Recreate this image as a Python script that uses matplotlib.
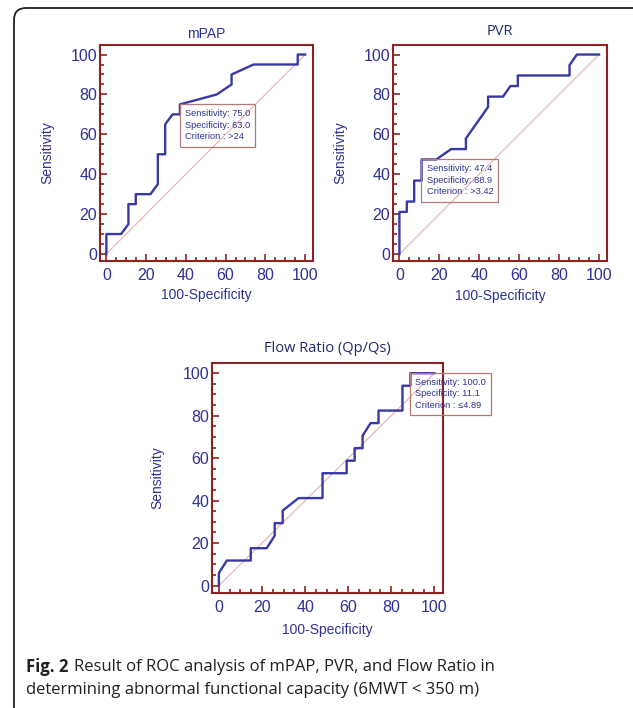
import matplotlib.pyplot as plt
from matplotlib.patches import FancyBboxPatch
from matplotlib.transforms import IdentityTransform
from matplotlib.ticker import MultipleLocator

# ROC curve points (100-Specificity, Sensitivity)
mpap_x = [0, 0, 7.4, 11.1, 11.1, 14.8, 14.8, 22.2, 25.9, 25.9, 29.6, 29.6, 33.3, 37.0, 37.0,
          55.6, 63.0, 63.0, 74.1, 96.3, 96.3, 100]
mpap_y = [0, 10, 10, 15, 25, 25, 30, 30, 35, 50, 50, 65, 70, 70, 75,
          80, 85, 90, 95, 95, 100, 100]
pvr_x = [0, 0, 3.7, 3.7, 7.4, 7.4, 11.1, 11.1, 18.5, 25.9, 33.3, 33.3, 44.4, 44.4, 51.9,
         55.6, 59.3, 59.3, 85.2, 85.2, 88.9, 100]
pvr_y = [0, 21.1, 21.1, 26.3, 26.3, 36.8, 36.8, 47.4, 47.4, 52.6, 52.6, 57.9, 73.7, 78.9, 78.9,
         84.2, 84.2, 89.5, 89.5, 94.7, 100, 100]
flow_x = [0, 0, 3.7, 14.8, 14.8, 22.2, 25.9, 25.9, 29.6, 29.6, 37.0, 48.1, 48.1, 59.3, 59.3,
          63.0, 63.0, 66.7, 66.7, 70.4, 74.1, 74.1, 85.2, 85.2, 88.9, 88.9, 100]
flow_y = [0, 5.9, 11.8, 11.8, 17.6, 17.6, 23.5, 29.4, 29.4, 35.3, 41.2, 41.2, 52.9, 52.9, 58.8,
          58.8, 64.7, 64.7, 70.6, 76.5, 76.5, 82.4, 82.4, 94.1, 94.1, 100, 100]

# criterion points and box texts
mpap_cut = (37.0, 75.0)
pvr_cut = (11.1, 47.4)
flow_cut = (88.9, 100.0)
mpap_txt = "Sensitivity: 75.0\nSpecificity: 63.0\nCriterion : >24"
pvr_txt = "Sensitivity: 47.4\nSpecificity: 88.9\nCriterion : >3.42"
flow_txt = "Sensitivity: 100.0\nSpecificity: 11.1\nCriterion : \u22644.89"

frame_c = '#8B2323'
curve_c = '#3838A6'
text_c = '#2E3192'
diag_c = '#E3B2B2'
box_c = '#B57878'
arial = ['Liberation Sans', 'DejaVu Sans']
plt.rcParams['font.family'] = arial

fig = plt.figure(figsize=(6.33, 7.08), dpi=100)

# figure border (rounded top-left corner, right/bottom cut off)
border = FancyBboxPatch((14, -30), 660, 708 - 8 + 30, boxstyle="round,pad=0,rounding_size=12",
                        transform=IdentityTransform(), fc='none', ec='#222222', lw=1.3)
fig.patches.append(border)


def roc_panel(rect, xs, ys, cut, txt, title, title_font, title_size, title_y, xl_y, yl_x):
    ax = fig.add_axes(rect)
    ax.plot([0, 100], [0, 100], color=diag_c, lw=0.8, zorder=1)
    ax.plot(xs, ys, color=curve_c, lw=1.7, zorder=2)
    ax.set_xlim(-3.2, 104)
    ax.set_ylim(-3.5, 104.8)
    ax.xaxis.set_major_locator(MultipleLocator(20))
    ax.xaxis.set_minor_locator(MultipleLocator(5))
    ax.yaxis.set_major_locator(MultipleLocator(20))
    ax.yaxis.set_minor_locator(MultipleLocator(5))
    for s in ax.spines.values():
        s.set_color(frame_c)
        s.set_linewidth(1.5)
    ax.tick_params(which='both', direction='in', color=frame_c, width=1.2, labelcolor=text_c,
                   labelsize=11.5)
    ax.tick_params(which='major', length=5)
    ax.tick_params(which='minor', length=3)
    ax.tick_params(axis='y', pad=2)
    ax.tick_params(axis='x', pad=5)
    ax.set_xlabel("100-Specificity", color=text_c, fontsize=10, va='center')
    ax.set_ylabel("Sensitivity", color=text_c, fontsize=10, va='center')
    ax.xaxis.set_label_coords(0.5, xl_y)
    ax.yaxis.set_label_coords(yl_x, 0.5)
    ax.set_title(title, color='#1F2A6B' if title_font != arial else text_c, fontsize=title_size,
                 family=title_font, y=title_y, va='center', pad=0)
    ax.annotate(txt, xy=cut, xytext=(3.6, -3.2), textcoords='offset points', ha='left', va='top',
                fontsize=6.7, color=text_c, linespacing=1.4, annotation_clip=False,
                bbox=dict(boxstyle='square,pad=0.55', fc='none', ec=box_c, lw=0.9), zorder=3)
    return ax


roc_panel([0.158, 0.6314, 0.3365, 0.3051], mpap_x, mpap_y, mpap_cut, mpap_txt,
          "mPAP", arial, 10, 1.05, -0.157, -0.249)
roc_panel([0.6209, 0.6314, 0.3381, 0.3051], pvr_x, pvr_y, pvr_cut, pvr_txt,
          "PVR", ['Open Sans', 'DejaVu Sans'], 10.5, 1.06, -0.162, -0.248)
roc_panel([0.3349, 0.1624, 0.3649, 0.3249], flow_x, flow_y, flow_cut, flow_txt,
          "Flow Ratio (Qp/Qs)", ['Open Sans', 'DejaVu Sans'], 10.5, 1.065, -0.161, -0.238)

# caption
cap_font = ['Open Sans', 'DejaVu Sans']
fig.text(26 / 633, 1 - 667 / 708, "Fig. 2", fontsize=12, fontweight='bold', family=cap_font,
         color='#231F20', va='center', ha='left')
fig.text(74 / 633, 1 - 667 / 708, "Result of ROC analysis of mPAP, PVR, and Flow Ratio in",
         fontsize=12, family=cap_font, color='#231F20', va='center', ha='left')
fig.text(26 / 633, 1 - 690 / 708, "determining abnormal functional capacity (6MWT < 350 m)",
         fontsize=12, family=cap_font, color='#231F20', va='center', ha='left')

fig.savefig("out.png", dpi=100)
